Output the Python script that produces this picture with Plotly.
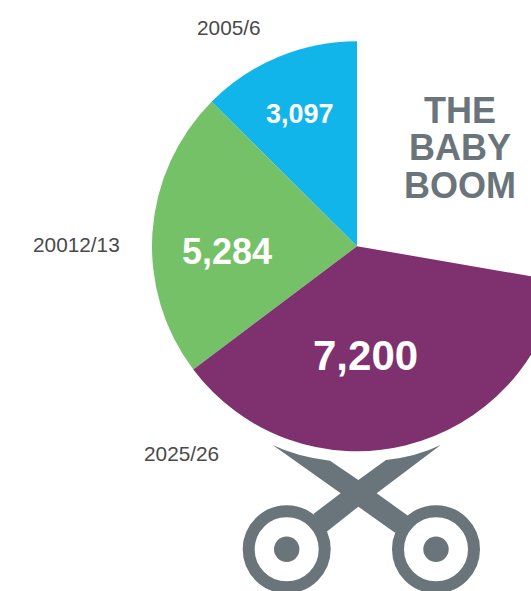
import plotly.graph_objects as go

# Data
periods = ["2005/6", "20012/13", "2025/26"]
values = ["3,097", "5,284", "7,200"]
# Slice sweeps in degrees (the original is not to scale),
# followed by the empty part of the circle.
sweeps = [45.2, 81.8, 133.2, 99.8]
colors = ["#12B5EA", "#75C167", "#7E316E", "rgba(0,0,0,0)"]
title_lines = ["THE", "BABY", "BOOM"]

W, H = 562, 591
GREY = "#6A757B"
FONT = "Liberation Sans, Arial, sans-serif"


def px(x):
    return x / W


def py(y):
    return 1 - y / H


def zoom_pt(x, y):
    return f"{px(230 + x / 3):.5f},{py(430 + y / 3):.5f}"


fig = go.Figure(
    go.Pie(
        values=sweeps,
        sort=False,
        direction="counterclockwise",
        rotation=-sweeps[0],
        marker=dict(colors=colors, line=dict(width=0)),
        textinfo="none",
        hoverinfo="skip",
        showlegend=False,
        domain=dict(x=[px(152), px(562)], y=[py(451.5), py(41)]),
    )
)

annotations = []


def text(x, y, s, size, color, bold=False):
    annotations.append(
        dict(
            x=px(x), y=py(y), xref="paper", yref="paper", text=f"<b>{s}</b>" if bold else s,
            showarrow=False, xanchor="center", yanchor="middle",
            font=dict(family=FONT, size=size, color=color),
        )
    )


text(228.5, 28, periods[0], 20.8, "#4A4A4A")
text(76.5, 244, periods[1], 20.8, "#4A4A4A")
text(181.5, 453, periods[2], 20.8, "#4A4A4A")
text(300, 114, values[0], 27, "white", True)
text(226.5, 251, values[1], 36, "white", True)
text(365, 355, values[2], 42, "white", True)
for line, yy in zip(title_lines, [110, 148, 185]):
    text(460, yy, line, 36, GREY, True)

arm = (
    f"M {zoom_pt(128, 45)} Q {zoom_pt(200, 80)} {zoom_pt(300, 92)} "
    f"L {zoom_pt(385, 150)} L {zoom_pt(468, 90)} Q {zoom_pt(560, 80)} {zoom_pt(632, 45)} "
    f"L {zoom_pt(440, 190)} L {zoom_pt(535, 258)} L {zoom_pt(495, 308)} L {zoom_pt(385, 230)} "
    f"L {zoom_pt(290, 305)} L {zoom_pt(250, 252)} L {zoom_pt(332, 190)} Z"
)
shapes = [dict(type="path", path=arm, xref="paper", yref="paper", fillcolor=GREY, line=dict(width=0))]
for cx in (286.7, 436.0):
    cy = 549.3
    shapes.append(dict(type="circle", xref="paper", yref="paper",
                       x0=px(cx - 38), x1=px(cx + 38), y0=py(cy + 38), y1=py(cy - 38),
                       fillcolor="white", line=dict(color=GREY, width=12)))
    shapes.append(dict(type="circle", xref="paper", yref="paper",
                       x0=px(cx - 12.7), x1=px(cx + 12.7), y0=py(cy + 12.7), y1=py(cy - 12.7),
                       fillcolor=GREY, line=dict(width=0)))

fig.update_layout(
    width=W, height=H, autosize=False,
    margin=dict(l=0, r=0, t=0, b=0),
    paper_bgcolor="white", plot_bgcolor="white",
    annotations=annotations, shapes=shapes,
)

fig.write_html(
    "out.html",
    config=dict(displayModeBar=False),
    post_script="document.documentElement.style.overflow='hidden';document.body.style.overflow='hidden';document.body.style.margin='0';",
)
